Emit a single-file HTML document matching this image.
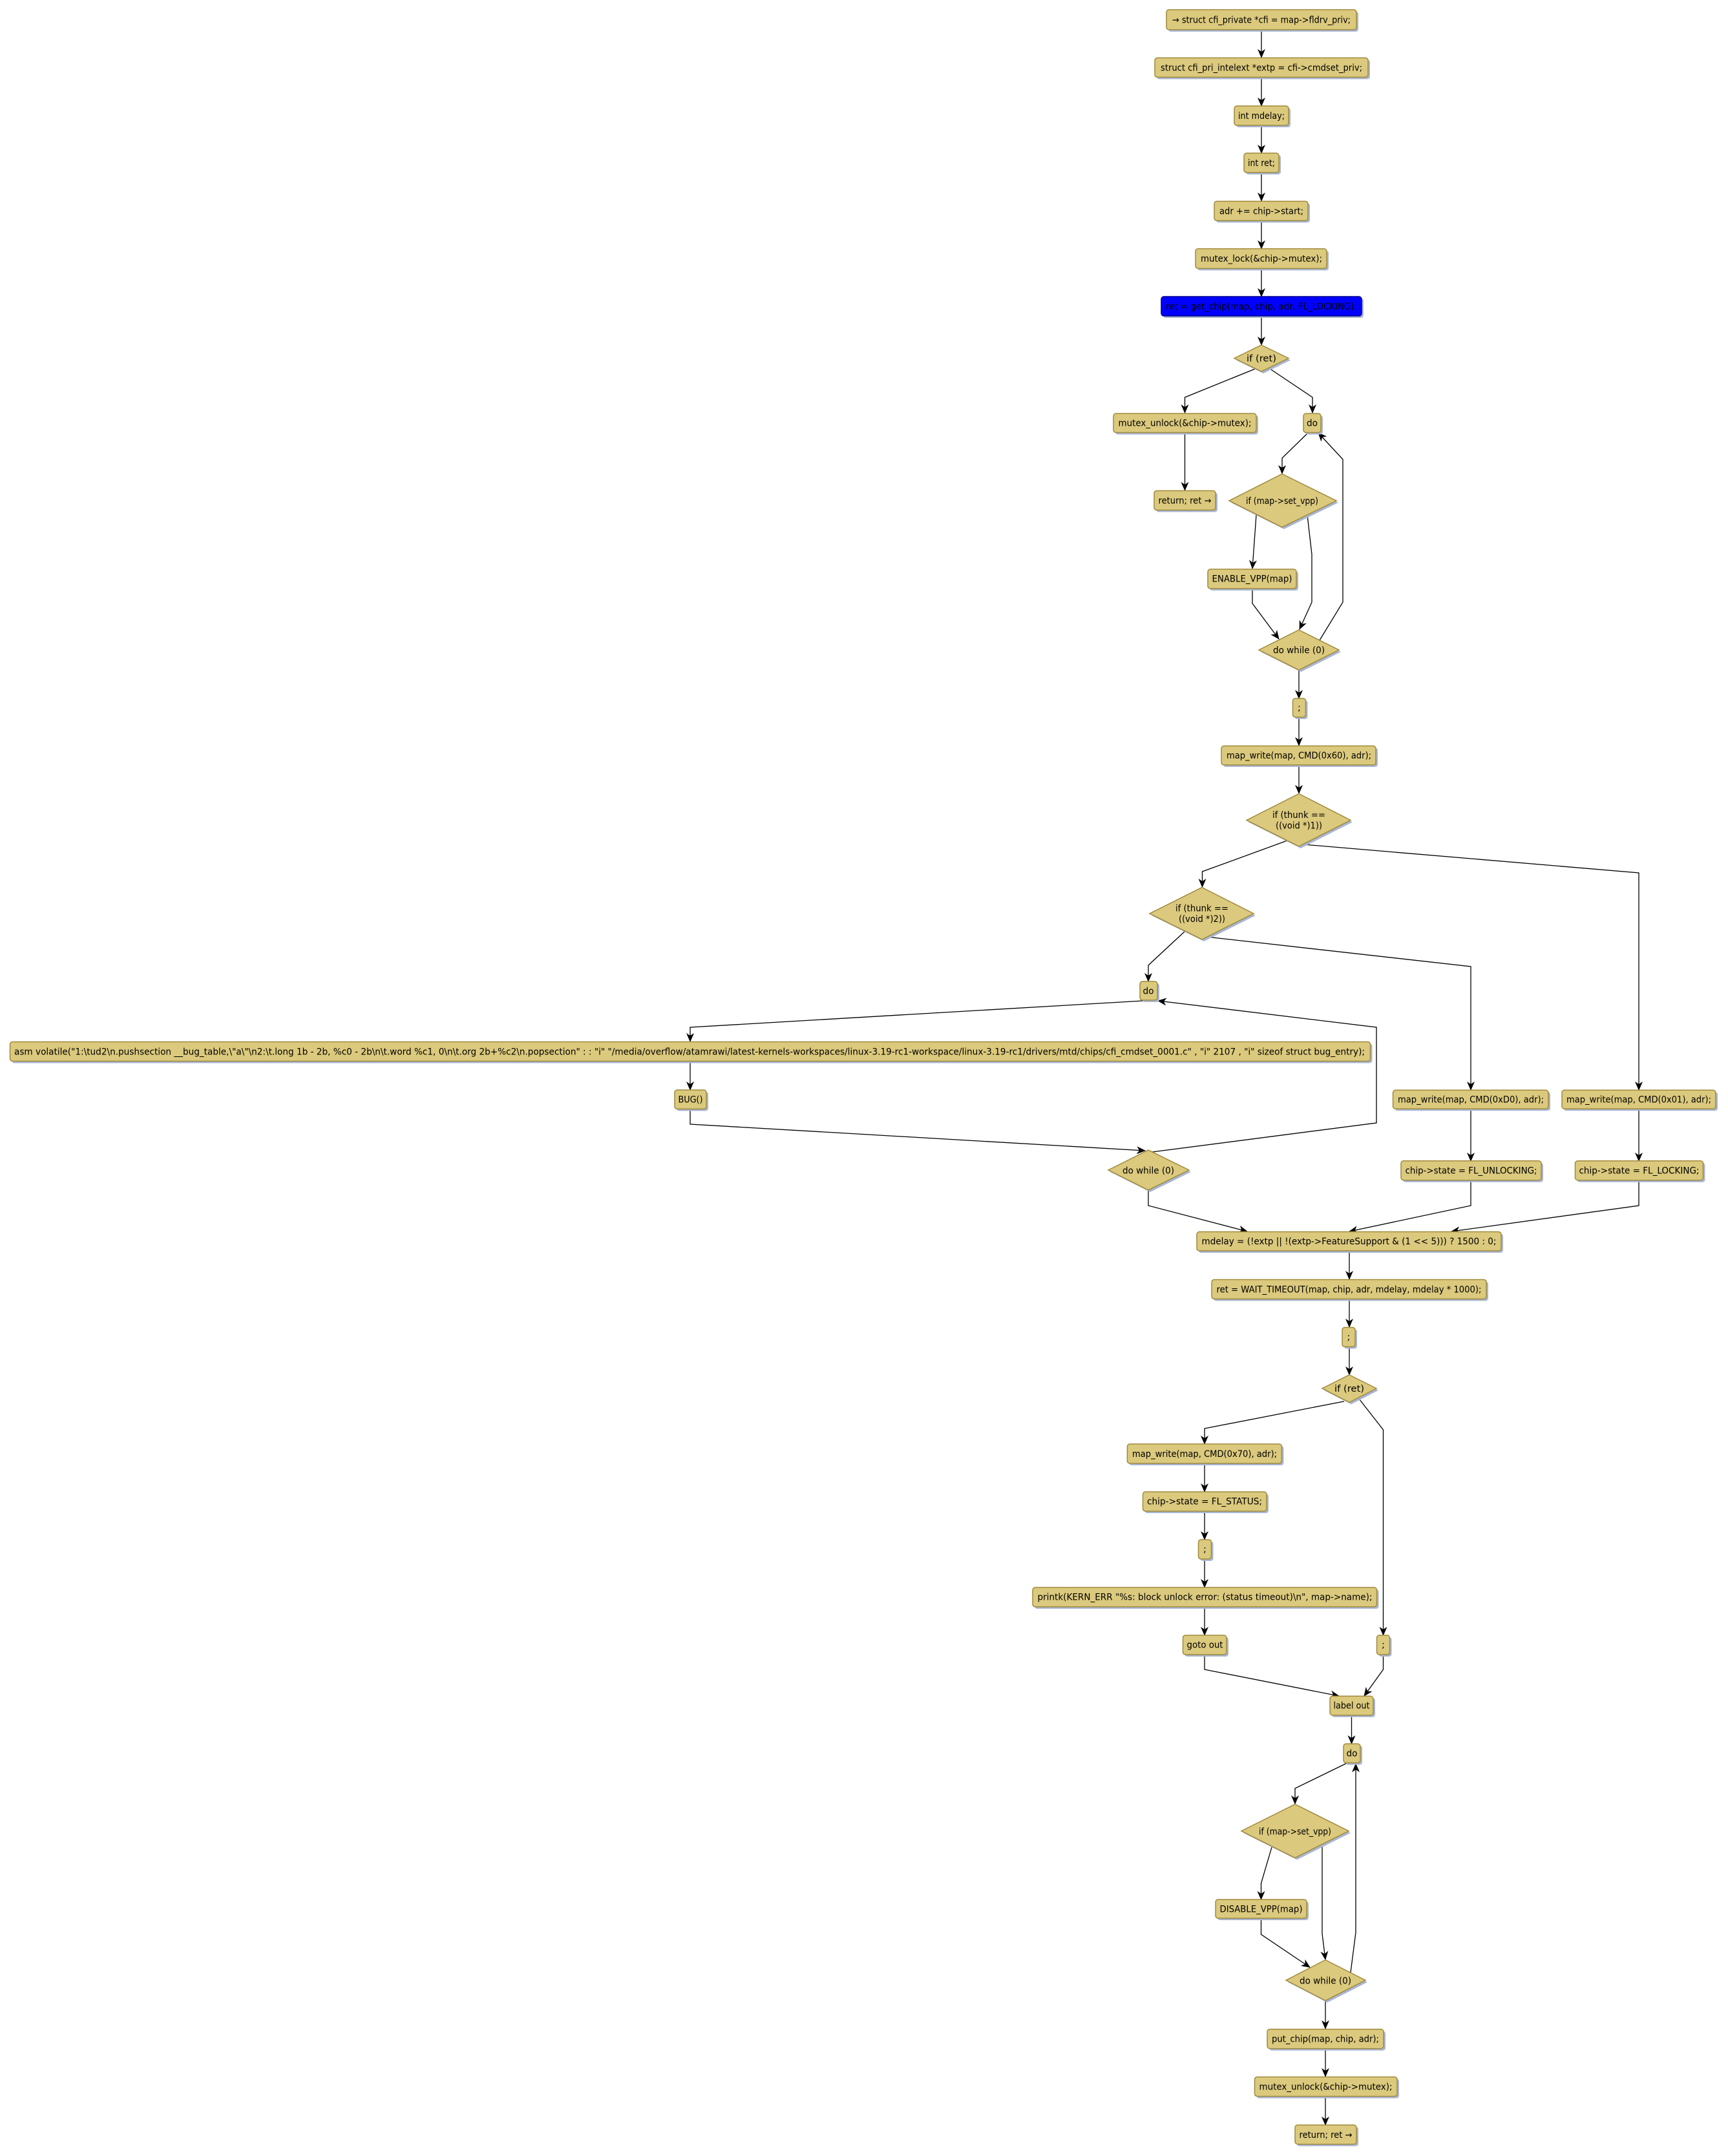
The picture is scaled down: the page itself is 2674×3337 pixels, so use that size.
<!DOCTYPE html>
<html><head><meta charset="utf-8"><style>
html,body{margin:0;padding:0;background:#fff;}
svg{display:block;}
text{font-family:"DejaVu Sans","Liberation Sans",sans-serif;font-size:14px;fill:#000;}
.b{fill:#dbc97d;stroke:#a08a3c;stroke-width:1.5;}
.s{fill:#a9b6d4;}
.e{fill:none;stroke:#000;stroke-width:1.3;marker-end:url(#ar);}
</style></head><body>
<svg width="2674" height="3337" viewBox="0 0 2674 3337" xmlns="http://www.w3.org/2000/svg">
<defs>
<marker id="ar" markerWidth="14" markerHeight="12" refX="13" refY="6" orient="auto" markerUnits="userSpaceOnUse">
<path d="M0,0 L14,6 L0,12 L4,6 z" fill="#000"/>
</marker>
</defs>

<g>
<polyline class="e" points="1952,46 1952,89"/>
<polyline class="e" points="1952,119 1952,164"/>
<polyline class="e" points="1952,194 1952,237"/>
<polyline class="e" points="1952,267 1952,311"/>
<polyline class="e" points="1952,341 1952,385"/>
<polyline class="e" points="1952,416 1952,459"/>
<polyline class="e" points="1952,489 1952,534"/>
<polyline class="e" points="1942,571 1833.5,615 1833.5,639"/>
<polyline class="e" points="1964,570 2031,615 2031,639"/>
<polyline class="e" points="1833.5,669 1833.5,759"/>
<polyline class="e" points="2024,670 1984,709 1984,733"/>
<polyline class="e" points="1944,797 1938,880"/>
<polyline class="e" points="2023,797 2030,858 2030,932 2011,974"/>
<polyline class="e" points="1938,911 1938,934 1979,989"/>
<polyline class="e" points="2042,991 2078,932 2078,711 2040,670"/>
<polyline class="e" points="2010,1037 2010,1081"/>
<polyline class="e" points="2010,1110 2010,1154"/>
<polyline class="e" points="2010,1184 2010,1228"/>
<polyline class="e" points="1992,1301 1860.5,1349 1860.5,1373"/>
<polyline class="e" points="2017,1307 2536,1351 2536,1687"/>
<polyline class="e" points="1834,1441 1777,1494 1777,1519"/>
<polyline class="e" points="1867,1450 2276,1496 2276,1687"/>
<polyline class="e" points="1769,1549 1068,1590 1068,1612"/>
<polyline class="e" points="1068,1643 1068,1687"/>
<polyline class="e" points="1068,1717 1068,1740 1772,1781"/>
<polyline class="e" points="1783,1783 2130,1738 2130,1590 1792,1549"/>
<polyline class="e" points="2276,1716 2276,1797"/>
<polyline class="e" points="2536,1716 2536,1797"/>
<polyline class="e" points="1777,1842 1777,1866 1930,1906"/>
<polyline class="e" points="2276,1827 2276,1866 2088,1906"/>
<polyline class="e" points="2536,1827 2536,1866 2246,1906"/>
<polyline class="e" points="2088,1936 2088,1980"/>
<polyline class="e" points="2088,2010 2088,2054"/>
<polyline class="e" points="2088,2084 2088,2128"/>
<polyline class="e" points="2080,2169 1864,2211 1864,2235"/>
<polyline class="e" points="2103,2165 2140.5,2213 2140.5,2531"/>
<polyline class="e" points="1864,2265 1864,2309"/>
<polyline class="e" points="1864,2339 1864,2383"/>
<polyline class="e" points="1864,2412 1864,2457"/>
<polyline class="e" points="1864,2487 1864,2531"/>
<polyline class="e" points="1864,2561 1864,2584 2072,2625"/>
<polyline class="e" points="2140.5,2561 2140.5,2584 2111,2625"/>
<polyline class="e" points="2091.5,2655 2091.5,2699"/>
<polyline class="e" points="2084,2729 2004,2768 2004,2792"/>
<polyline class="e" points="1968,2859 1951.5,2915 1951.5,2940"/>
<polyline class="e" points="2046,2856 2046,2993 2051,3033"/>
<polyline class="e" points="1951.5,2969 1951.5,2994 2027,3045"/>
<polyline class="e" points="2090,3053 2098,2991 2098,2730"/>
<polyline class="e" points="2051,3097 2051,3140"/>
<polyline class="e" points="2051,3171 2051,3214"/>
<polyline class="e" points="2051,3245 2051,3289"/>
</g>

<g>
<rect class="s" x="1808" y="18" width="294" height="31" rx="4"/><rect class="b" x="1805" y="15" width="294" height="31" rx="4"/><text x="1952" y="35.5" text-anchor="middle" textLength="276" lengthAdjust="spacingAndGlyphs">→ struct cfi_private *cfi = map-&gt;fldrv_priv;</text>
<rect class="s" x="1790" y="92.5" width="330" height="30" rx="4"/><rect class="b" x="1787" y="89.5" width="330" height="30" rx="4"/><text x="1952" y="109.5" text-anchor="middle" textLength="312" lengthAdjust="spacingAndGlyphs">struct cfi_pri_intelext *extp = cfi-&gt;cmdset_priv;</text>
<rect class="s" x="1913" y="167" width="84" height="30" rx="4"/><rect class="b" x="1910" y="164" width="84" height="30" rx="4"/><text x="1952" y="184" text-anchor="middle" textLength="72" lengthAdjust="spacingAndGlyphs">int mdelay;</text>
<rect class="s" x="1928" y="240" width="54" height="30" rx="4"/><rect class="b" x="1925" y="237" width="54" height="30" rx="4"/><text x="1952" y="257" text-anchor="middle" textLength="42" lengthAdjust="spacingAndGlyphs">int ret;</text>
<rect class="s" x="1882" y="314.5" width="145" height="30" rx="4"/><rect class="b" x="1879" y="311.5" width="145" height="30" rx="4"/><text x="1952" y="331.5" text-anchor="middle" textLength="130" lengthAdjust="spacingAndGlyphs">adr += chip-&gt;start;</text>
<rect class="s" x="1853" y="388" width="203" height="30.5" rx="4"/><rect class="b" x="1850" y="385" width="203" height="30.5" rx="4"/><text x="1952" y="405" text-anchor="middle" textLength="188" lengthAdjust="spacingAndGlyphs">mutex_lock(&amp;chip-&gt;mutex);</text>
<rect class="s" x="1800" y="462" width="310" height="30" rx="4"/><rect x="1797" y="459" width="310" height="30" rx="4" fill="#0000ff" stroke="#00008a" stroke-width="1.5"/><text x="1952" y="479" text-anchor="middle" textLength="296" lengthAdjust="spacingAndGlyphs">ret = get_chip(map, chip, adr, FL_LOCKING);</text>

<rect class="s" x="1726" y="643" width="221" height="29.5" rx="4"/><rect class="b" x="1723" y="640" width="221" height="29.5" rx="4"/><text x="1833.5" y="659.5" text-anchor="middle" textLength="206" lengthAdjust="spacingAndGlyphs">mutex_unlock(&amp;chip-&gt;mutex);</text>
<rect class="s" x="2020" y="643" width="27" height="29.5" rx="4"/><rect class="b" x="2017" y="640" width="27" height="29.5" rx="4"/><text x="2030.5" y="659.5" text-anchor="middle" textLength="17" lengthAdjust="spacingAndGlyphs">do</text>
<rect class="s" x="1789" y="762.5" width="95" height="30" rx="4"/><rect class="b" x="1786" y="759.5" width="95" height="30" rx="4"/><text x="1833.5" y="779.5" text-anchor="middle" textLength="82" lengthAdjust="spacingAndGlyphs">return; ret →</text>
<rect class="s" x="1872" y="884" width="137" height="30" rx="4"/><rect class="b" x="1869" y="881" width="137" height="30" rx="4"/><text x="1937.5" y="900.5" text-anchor="middle" textLength="124" lengthAdjust="spacingAndGlyphs">ENABLE_VPP(map)</text>
<rect class="s" x="2003.5" y="1084" width="20" height="29" rx="4"/><rect class="b" x="2000.5" y="1081" width="20" height="29" rx="4"/><text x="2010.5" y="1100" text-anchor="middle">;</text>
<rect class="s" x="1893" y="1157.5" width="239" height="29.5" rx="4"/><rect class="b" x="1890" y="1154.5" width="239" height="29.5" rx="4"/><text x="2010" y="1174" text-anchor="middle" textLength="224" lengthAdjust="spacingAndGlyphs">map_write(map, CMD(0x60), adr);</text>
<rect class="s" x="1767" y="1522" width="27" height="29" rx="4"/><rect class="b" x="1764" y="1519" width="27" height="29" rx="4"/><text x="1777" y="1538.5" text-anchor="middle" textLength="17" lengthAdjust="spacingAndGlyphs">do</text>

<rect class="s" x="18.5" y="1615.5" width="2105" height="30" rx="4"/><rect class="b" x="15.5" y="1612.5" width="2105" height="30" rx="4"/><text x="22" y="1632.5" textLength="2090" lengthAdjust="spacingAndGlyphs">asm volatile("1:\tud2\n.pushsection __bug_table,\"a\"\n2:\t.long 1b - 2b, %c0 - 2b\n\t.word %c1, 0\n\t.org 2b+%c2\n.popsection" : : "i" "/media/overflow/atamrawi/latest-kernels-workspaces/linux-3.19-rc1-workspace/linux-3.19-rc1/drivers/mtd/chips/cfi_cmdset_0001.c" , "i" 2107 , "i" sizeof struct bug_entry);</text>
<rect class="s" x="1047" y="1690" width="49" height="29.5" rx="4"/><rect class="b" x="1044" y="1687" width="49" height="29.5" rx="4"/><text x="1068.5" y="1706.5" text-anchor="middle" textLength="38" lengthAdjust="spacingAndGlyphs">BUG()</text>
<rect class="s" x="2158.5" y="1690.3" width="240.5" height="29" rx="4"/><rect class="b" x="2155.5" y="1687.3" width="240.5" height="29" rx="4"/><text x="2276" y="1706.5" text-anchor="middle" textLength="226" lengthAdjust="spacingAndGlyphs">map_write(map, CMD(0xD0), adr);</text>
<rect class="s" x="2420" y="1690.3" width="238" height="29" rx="4"/><rect class="b" x="2417" y="1687.3" width="238" height="29" rx="4"/><text x="2536" y="1706.5" text-anchor="middle" textLength="224" lengthAdjust="spacingAndGlyphs">map_write(map, CMD(0x01), adr);</text>
<rect class="s" x="2171" y="1799.7" width="217" height="30" rx="4"/><rect class="b" x="2168" y="1796.7" width="217" height="30" rx="4"/><text x="2276.5" y="1816.5" text-anchor="middle" textLength="204" lengthAdjust="spacingAndGlyphs">chip-&gt;state = FL_UNLOCKING;</text>
<rect class="s" x="2440.5" y="1799.7" width="198" height="30" rx="4"/><rect class="b" x="2437.5" y="1796.7" width="198" height="30" rx="4"/><text x="2536.5" y="1816.5" text-anchor="middle" textLength="186" lengthAdjust="spacingAndGlyphs">chip-&gt;state = FL_LOCKING;</text>

<rect class="s" x="1855" y="1909.5" width="471" height="29.5" rx="4"/><rect class="b" x="1852" y="1906.5" width="471" height="29.5" rx="4"/><text x="2087.5" y="1926" text-anchor="middle" textLength="456" lengthAdjust="spacingAndGlyphs">mdelay = (!extp || !(extp-&gt;FeatureSupport &amp; (1 &lt;&lt; 5))) ? 1500 : 0;</text>
<rect class="s" x="1878" y="1983.5" width="425" height="30" rx="4"/><rect class="b" x="1875" y="1980.5" width="425" height="30" rx="4"/><text x="2087.5" y="2000.5" text-anchor="middle" textLength="410" lengthAdjust="spacingAndGlyphs">ret = WAIT_TIMEOUT(map, chip, adr, mdelay, mdelay * 1000);</text>
<rect class="s" x="2080" y="2057.5" width="20" height="30" rx="4"/><rect class="b" x="2077" y="2054.5" width="20" height="30" rx="4"/><text x="2087" y="2074" text-anchor="middle">;</text>
<rect class="s" x="1747.4" y="2238" width="239" height="30" rx="4"/><rect class="b" x="1744.4" y="2235" width="239" height="30" rx="4"/><text x="1864" y="2255" text-anchor="middle" textLength="224" lengthAdjust="spacingAndGlyphs">map_write(map, CMD(0x70), adr);</text>
<rect class="s" x="1771.5" y="2312" width="191.5" height="30" rx="4"/><rect class="b" x="1768.5" y="2309" width="191.5" height="30" rx="4"/><text x="1864" y="2328.5" text-anchor="middle" textLength="178" lengthAdjust="spacingAndGlyphs">chip-&gt;state = FL_STATUS;</text>
<rect class="s" x="1857.5" y="2386" width="20" height="30" rx="4"/><rect class="b" x="1854.5" y="2383" width="20" height="30" rx="4"/><text x="1864.5" y="2402.5" text-anchor="middle">;</text>
<rect class="s" x="1601" y="2460" width="532.5" height="30" rx="4"/><rect class="b" x="1598" y="2457" width="532.5" height="30" rx="4"/><text x="1864.5" y="2476.5" text-anchor="middle" textLength="518" lengthAdjust="spacingAndGlyphs">printk(KERN_ERR "%s: block unlock error: (status timeout)\n", map-&gt;name);</text>
<rect class="s" x="1833.5" y="2534" width="67.5" height="30" rx="4"/><rect class="b" x="1830.5" y="2531" width="67.5" height="30" rx="4"/><text x="1864.5" y="2550.5" text-anchor="middle" textLength="56" lengthAdjust="spacingAndGlyphs">goto out</text>
<rect class="s" x="2133.5" y="2534" width="20" height="30" rx="4"/><rect class="b" x="2130.5" y="2531" width="20" height="30" rx="4"/><text x="2140.5" y="2550.5" text-anchor="middle">;</text>
<rect class="s" x="2061" y="2628.3" width="67" height="29.5" rx="4"/><rect class="b" x="2058" y="2625.3" width="67" height="29.5" rx="4"/><text x="2091.5" y="2644.5" text-anchor="middle" textLength="56" lengthAdjust="spacingAndGlyphs">label out</text>
<rect class="s" x="2082" y="2702" width="26" height="29.5" rx="4"/><rect class="b" x="2079" y="2699" width="26" height="29.5" rx="4"/><text x="2092" y="2718.5" text-anchor="middle" textLength="17" lengthAdjust="spacingAndGlyphs">do</text>
<rect class="s" x="1884" y="2943" width="141" height="29" rx="4"/><rect class="b" x="1881" y="2940" width="141" height="29" rx="4"/><text x="1951.5" y="2959.5" text-anchor="middle" textLength="128" lengthAdjust="spacingAndGlyphs">DISABLE_VPP(map)</text>
<rect class="s" x="1964" y="3143.7" width="180" height="30" rx="4"/><rect class="b" x="1961" y="3140.7" width="180" height="30" rx="4"/><text x="2051" y="3160.5" text-anchor="middle" textLength="166" lengthAdjust="spacingAndGlyphs">put_chip(map, chip, adr);</text>
<rect class="s" x="1944.5" y="3217.6" width="220.5" height="30" rx="4"/><rect class="b" x="1941.5" y="3214.6" width="220.5" height="30" rx="4"/><text x="2051.5" y="3234.5" text-anchor="middle" textLength="206" lengthAdjust="spacingAndGlyphs">mutex_unlock(&amp;chip-&gt;mutex);</text>
<rect class="s" x="2007" y="3292" width="95" height="29.7" rx="4"/><rect class="b" x="2004" y="3289" width="95" height="29.7" rx="4"/><text x="2051.5" y="3309" text-anchor="middle" textLength="82" lengthAdjust="spacingAndGlyphs">return; ret →</text>
</g>

<g>
<polygon class="s" points="1955,537 1997,557.5 1955,578 1913,557.5"/><polygon class="b" points="1952,534 1994,554.5 1952,575 1910,554.5"/><text x="1952" y="559.5" text-anchor="middle" textLength="46" lengthAdjust="spacingAndGlyphs">if (ret)</text>
<polygon class="s" points="1987,736.5 2071,778 1987,819 1905,778"/><polygon class="b" points="1984,733.5 2068,775 1984,816 1902,775"/><text x="1984" y="780" text-anchor="middle" textLength="112" lengthAdjust="spacingAndGlyphs">if (map-&gt;set_vpp)</text>
<polygon class="s" points="2013,978 2075,1009 2013,1040 1951,1009"/><polygon class="b" points="2010,975 2072,1006 2010,1037 1948,1006"/><text x="2010" y="1011" text-anchor="middle" textLength="80" lengthAdjust="spacingAndGlyphs">do while (0)</text>
<polygon class="s" points="2013,1231.5 2093,1272.5 2013,1313 1932,1272.5"/><polygon class="b" points="2010,1228.5 2090,1269.5 2010,1310 1929,1269.5"/><text x="2010" y="1266" text-anchor="middle" textLength="82" lengthAdjust="spacingAndGlyphs">if (thunk ==</text><text x="2010" y="1282.5" text-anchor="middle" textLength="72" lengthAdjust="spacingAndGlyphs">((void *)1))</text>
<polygon class="s" points="1863,1376.5 1943,1417 1863,1457 1782,1417"/><polygon class="b" points="1860,1373.5 1940,1414 1860,1454 1779,1414"/><text x="1860" y="1410.5" text-anchor="middle" textLength="82" lengthAdjust="spacingAndGlyphs">if (thunk ==</text><text x="1860" y="1427" text-anchor="middle" textLength="72" lengthAdjust="spacingAndGlyphs">((void *)2))</text>
<polygon class="s" points="1780,1783 1843,1814 1780,1845 1718,1814"/><polygon class="b" points="1777,1780 1840,1811 1777,1842 1715,1811"/><text x="1777" y="1816.5" text-anchor="middle" textLength="80" lengthAdjust="spacingAndGlyphs">do while (0)</text>
<polygon class="s" points="2091,2131 2133,2152 2091,2173.5 2049,2152"/><polygon class="b" points="2088,2128 2130,2149 2088,2170.5 2046,2149"/><text x="2088" y="2154" text-anchor="middle" textLength="46" lengthAdjust="spacingAndGlyphs">if (ret)</text>
<polygon class="s" points="2007,2795.5 2090,2837 2007,2878.5 1924,2837"/><polygon class="b" points="2004,2792.5 2087,2834 2004,2875.5 1921,2834"/><text x="2004" y="2839.5" text-anchor="middle" textLength="112" lengthAdjust="spacingAndGlyphs">if (map-&gt;set_vpp)</text>
<polygon class="s" points="2054,3036.5 2116,3068 2054,3099.5 1993,3068"/><polygon class="b" points="2051,3033.5 2113,3065 2051,3096.5 1990,3065"/><text x="2051" y="3070.5" text-anchor="middle" textLength="80" lengthAdjust="spacingAndGlyphs">do while (0)</text>
</g>
</svg>
</body></html>
